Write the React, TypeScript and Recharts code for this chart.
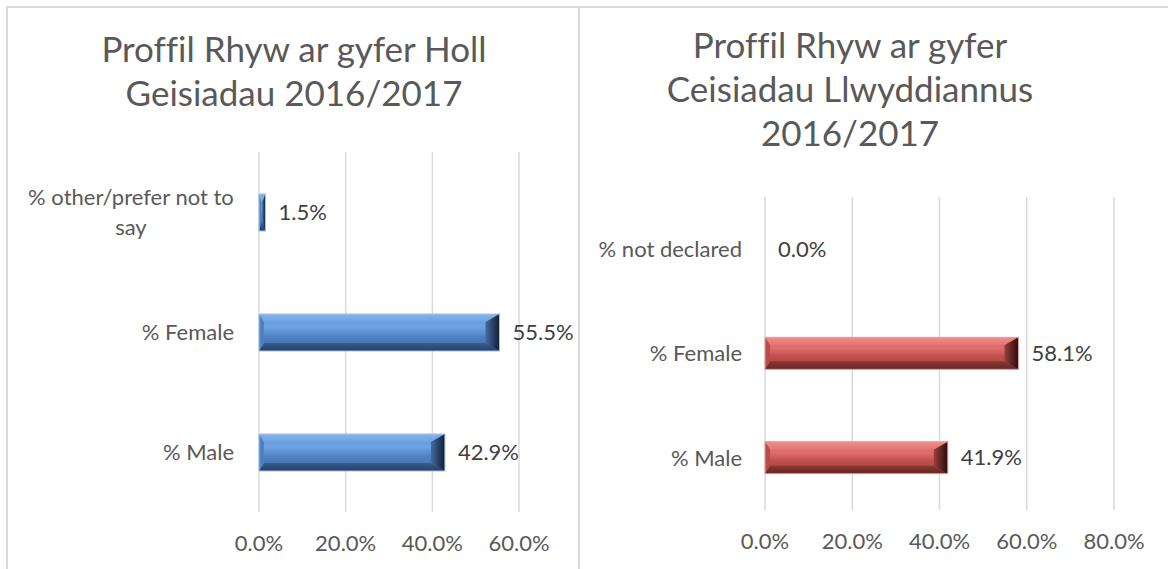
import React from "react";
import { BarChart, Bar, XAxis, YAxis, CartesianGrid, LabelList } from "recharts";

// datos
const categoriasTodas = ["% other/prefer not to say", "% Female", "% Male"];
const valoresTodas = [1.5, 55.5, 42.9];
const ticksTodas = [0, 20, 40, 60];

const categoriasExito = ["% not declared", "% Female", "% Male"];
const valoresExito = [0.0, 58.1, 41.9];
const ticksExito = [0, 20, 40, 60, 80];

const tituloTodas = ["Proffil Rhyw ar gyfer Holl", "Geisiadau 2016/2017"];
const tituloExito = ["Proffil Rhyw ar gyfer", "Ceisiadau Llwyddiannus", "2016/2017"];

const FUENTE = "Lato, 'Open Sans', sans-serif";
const GRIS = "#595959";

const pct = (v: any) => `${Number(v).toFixed(1)}%`;

// medir texto para partir etiquetas largas
let ctx: CanvasRenderingContext2D | null = null;
function medir(t: string, size: number) {
  if (!ctx) ctx = document.createElement("canvas").getContext("2d");
  if (!ctx) return t.length * size * 0.5;
  ctx.font = `${size}px Lato`;
  return ctx.measureText(t).width;
}

function partir(t: string, max: number, size: number) {
  const palabras = t.split(" ");
  const lineas: string[] = [];
  let actual = "";
  palabras.forEach((p) => {
    const prueba = actual ? actual + " " + p : p;
    if (medir(prueba, size) > max && actual) {
      lineas.push(actual);
      actual = p;
    } else actual = prueba;
  });
  if (actual) lineas.push(actual);
  return lineas;
}

function TickCategoria(props: any) {
  const { x, y, payload } = props;
  const lineas = partir(String(payload.value), 225, 22);
  const ancho = Math.max(...lineas.map((l) => medir(l, 22)));
  const cx = x - ancho / 2;
  return (
    <g>
      {lineas.map((l, i) => (
        <text
          key={i}
          x={cx}
          y={y + (i - (lineas.length - 1) / 2) * 30}
          dy="0.355em"
          textAnchor="middle"
          fill={GRIS}
          fontSize={22}
          fontFamily={FUENTE}
        >
          {l}
        </text>
      ))}
    </g>
  );
}

// barra con bisel tipo Excel
function BarraBisel(props: any) {
  const { x, y, width, height, tono } = props;
  if (!width || width <= 0) return null;
  const w = width, h = height;
  const T = Math.min(8, h / 4);
  const B = Math.min(8, h / 4);
  const L = Math.min(5, w / 3);
  const R = Math.min(14, w / 2);
  return (
    <g>
      <rect x={x} y={y} width={w} height={h} fill={`url(#${tono}-cuerpo)`} />
      <polygon
        points={`${x},${y} ${x + w},${y} ${x + w - R},${y + T} ${x + L},${y + T}`}
        fill={`url(#${tono}-arriba)`}
      />
      <polygon
        points={`${x + L},${y + h - B} ${x + w - R},${y + h - B} ${x + w},${y + h} ${x},${y + h}`}
        fill={`url(#${tono}-abajo)`}
      />
      <polygon
        points={`${x},${y} ${x + L},${y + T} ${x + L},${y + h - B} ${x},${y + h}`}
        fill={tono === "azul" ? "#4F80BF" : "#B84C49"}
      />
      <polygon
        points={`${x + w},${y} ${x + w},${y + h} ${x + w - R},${y + h - B} ${x + w - R},${y + T}`}
        fill={`url(#${tono}-lado)`}
      />
      <rect
        x={x}
        y={y}
        width={w}
        height={h}
        fill="none"
        stroke={tono === "azul" ? "#A3BFE2" : "#E3A3A1"}
        strokeWidth={1}
      />
    </g>
  );
}

function Gradientes() {
  return (
    <svg width={0} height={0} style={{ position: "absolute" }}>
      <defs>
        <linearGradient id="azul-cuerpo" x1="0" y1="0" x2="0" y2="1">
          <stop offset="0" stopColor="#5E92D6" />
          <stop offset="0.35" stopColor="#6FA3E4" />
          <stop offset="0.6" stopColor="#4F82C4" />
          <stop offset="1" stopColor="#3E68A0" />
        </linearGradient>
        <linearGradient id="azul-arriba" x1="0" y1="0" x2="0" y2="1">
          <stop offset="0" stopColor="#86B4EA" />
          <stop offset="1" stopColor="#6EA3E2" />
        </linearGradient>
        <linearGradient id="azul-abajo" x1="0" y1="0" x2="0" y2="1">
          <stop offset="0" stopColor="#375C8E" />
          <stop offset="1" stopColor="#243F66" />
        </linearGradient>
        <linearGradient id="azul-lado" x1="0" y1="0" x2="1" y2="0">
          <stop offset="0" stopColor="#426CA3" />
          <stop offset="1" stopColor="#111E31" />
        </linearGradient>
        <linearGradient id="rojo-cuerpo" x1="0" y1="0" x2="0" y2="1">
          <stop offset="0" stopColor="#D2605D" />
          <stop offset="0.35" stopColor="#E06E6B" />
          <stop offset="0.6" stopColor="#BF4F4C" />
          <stop offset="1" stopColor="#9E3E3B" />
        </linearGradient>
        <linearGradient id="rojo-arriba" x1="0" y1="0" x2="0" y2="1">
          <stop offset="0" stopColor="#EE8E8B" />
          <stop offset="1" stopColor="#E27471" />
        </linearGradient>
        <linearGradient id="rojo-abajo" x1="0" y1="0" x2="0" y2="1">
          <stop offset="0" stopColor="#8C3734" />
          <stop offset="1" stopColor="#652624" />
        </linearGradient>
        <linearGradient id="rojo-lado" x1="0" y1="0" x2="1" y2="0">
          <stop offset="0" stopColor="#993E3B" />
          <stop offset="1" stopColor="#280C0B" />
        </linearGradient>
      </defs>
    </svg>
  );
}

function Titulo({ lineas, cx, y0 }: { lineas: string[]; cx: number; y0: number }) {
  return (
    <>
      {lineas.map((l, i) => (
        <text
          key={i}
          x={cx}
          y={y0 + i * 44}
          textAnchor="middle"
          fill={GRIS}
          fontSize={35}
          fontFamily={FUENTE}
          style={{ fontVariantLigatures: "none" }}
        >
          {l}
        </text>
      ))}
    </>
  );
}

const datosTodas = categoriasTodas.map((c, i) => ({ nombre: c, valor: valoresTodas[i] }));
const datosExito = categoriasExito.map((c, i) => ({ nombre: c, valor: valoresExito[i] }));

export default function App() {
  return (
    <div
      style={{
        position: "absolute",
        left: 0,
        top: 0,
        width: 1168,
        height: 569,
        background: "#fff",
        overflow: "hidden",
        fontFamily: FUENTE,
      }}
    >
      <Gradientes />
      {/* bordes de los paneles */}
      <div style={{ position: "absolute", left: 6, top: 6, width: 1162, height: 2, background: "#D9D9D9" }} />
      <div style={{ position: "absolute", left: 6, top: 6, width: 2, height: 563, background: "#D9D9D9" }} />
      <div style={{ position: "absolute", left: 578, top: 6, width: 2, height: 563, background: "#D9D9D9" }} />

      <svg width={1168} height={569} style={{ position: "absolute", left: 0, top: 0 }}>
        <Titulo lineas={tituloTodas} cx={294} y0={62} />
        <Titulo lineas={tituloExito} cx={850} y0={58} />
      </svg>

      <div style={{ position: "absolute", left: 0, top: 0 }}>
        <BarChart
          width={579}
          height={569}
          data={datosTodas}
          layout="vertical"
          margin={{ top: 152, right: 60, bottom: 12, left: 0 }}
        >
          <CartesianGrid horizontal={false} stroke="#D9D9D9" strokeWidth={1.5} />
          <XAxis
            type="number"
            domain={[0, 60]}
            ticks={ticksTodas}
            tickFormatter={pct}
            axisLine={false}
            tickLine={false}
            tickMargin={17}
            height={45}
            tick={{ fill: GRIS, fontSize: 22, fontFamily: FUENTE }}
          />
          <YAxis
            type="category"
            dataKey="nombre"
            width={259}
            axisLine={false}
            tickLine={false}
            tickMargin={19}
            tick={<TickCategoria />}
          />
          <Bar
            dataKey="valor"
            barSize={37}
            isAnimationActive={false}
            shape={(p: any) => <BarraBisel {...p} tono="azul" />}
          >
            <LabelList
              dataKey="valor"
              position="right"
              offset={13}
              formatter={pct}
              fill="#404040"
              fontSize={22}
              fontFamily={FUENTE}
            />
          </Bar>
        </BarChart>
      </div>

      <div style={{ position: "absolute", left: 579, top: 0 }}>
        <BarChart
          width={589}
          height={569}
          data={datosExito}
          layout="vertical"
          margin={{ top: 197, right: 54, bottom: 14, left: 0 }}
        >
          <CartesianGrid horizontal={false} stroke="#D9D9D9" strokeWidth={1.5} />
          <XAxis
            type="number"
            domain={[0, 80]}
            ticks={ticksExito}
            tickFormatter={pct}
            axisLine={false}
            tickLine={false}
            tickMargin={17}
            height={45}
            tick={{ fill: GRIS, fontSize: 22, fontFamily: FUENTE }}
          />
          <YAxis
            type="category"
            dataKey="nombre"
            width={186}
            axisLine={false}
            tickLine={false}
            tickMargin={17}
            tick={<TickCategoria />}
          />
          <Bar
            dataKey="valor"
            barSize={32}
            isAnimationActive={false}
            shape={(p: any) => <BarraBisel {...p} tono="rojo" />}
          >
            <LabelList
              dataKey="valor"
              position="right"
              offset={13}
              formatter={pct}
              fill="#404040"
              fontSize={22}
              fontFamily={FUENTE}
            />
          </Bar>
        </BarChart>
      </div>
    </div>
  );
}
